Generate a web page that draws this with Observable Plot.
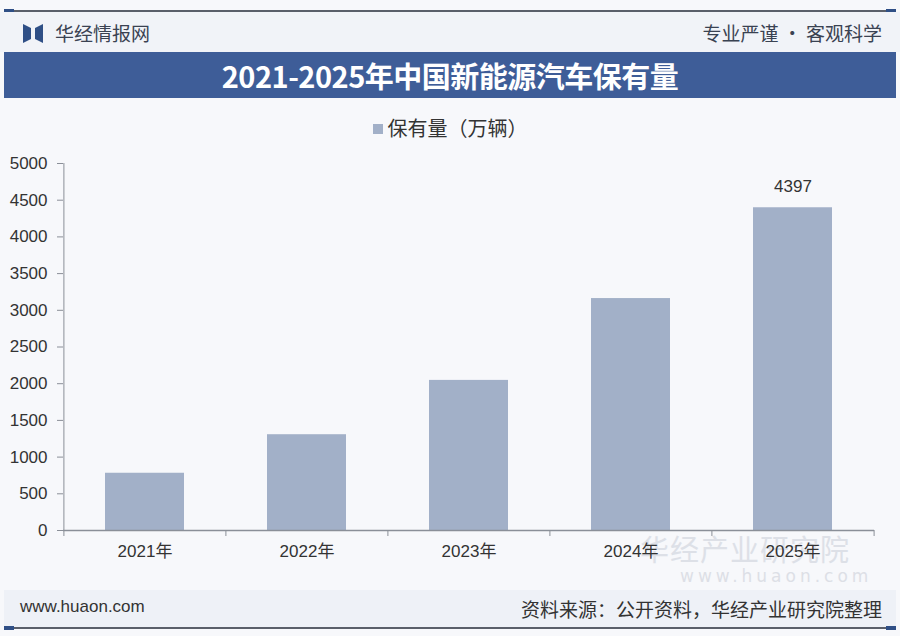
<!DOCTYPE html>
<html><head><meta charset="utf-8">
<script src="https://cdn.jsdelivr.net/npm/d3@7"></script>
<script src="https://cdn.jsdelivr.net/npm/@observablehq/plot@0.6"></script>
<style>
body{margin:0;width:900px;height:636px;overflow:hidden;background:#f7f8fb;font-family:"Noto Sans CJK SC","Noto Sans",sans-serif;position:relative;}
.abs{position:absolute;}
#topline{left:4px;top:10px;width:892px;height:2px;background:#5a5f6a;}
#topline:before,#topline:after,#botline:before,#botline:after{content:"";position:absolute;top:-1px;width:10px;height:4px;background:#2f4f86;}
#topline:before,#botline:before{left:0}
#topline:after,#botline:after{right:0}
#head{left:0;top:12px;width:900px;height:40px;background:#f1f3f8;}
#logo{left:23px;top:24px;width:20px;height:19px;}
#brand{left:55px;top:19px;font-size:19px;color:#3a4252;}
#motto{right:18px;top:19px;font-size:19px;color:#3a4252;}
#titlebar{left:4px;top:52px;width:892px;height:46px;background:#3e5d98;color:#fff;text-align:center;font-size:29px;font-weight:bold;line-height:46px;letter-spacing:-0.5px;}
#legend{left:0;top:113px;width:900px;text-align:center;font-size:20px;color:#333;}
#legend span.sw{display:inline-block;width:10px;height:10px;background:#a2b0c8;margin-right:5px;vertical-align:2px;}
#chart{left:0;top:140px;}
#foot{left:4px;top:590px;width:892px;height:37px;background:#eef1f7;}
#site{left:20px;top:597px;font-size:17px;color:#333;font-family:"Liberation Sans",Arial,sans-serif;}
#source{right:18px;top:595px;font-size:19px;color:#333;}
#botline{left:4px;top:627px;width:892px;height:2px;background:#5a5f6a;}
.wm{color:#c4cad5;opacity:0.5;font-size:29px;letter-spacing:1px;}
.wm2{color:#c8ccd5;opacity:0.55;font-size:17px;letter-spacing:4px;font-family:"DejaVu Sans",sans-serif;}
</style></head>
<body>
<div id="topline" class="abs"></div>
<div id="head" class="abs"></div>
<svg id="logo" class="abs" viewBox="0 0 20 19"><path d="M0 0 L8 4 L8 15 L0 19 Z M12 4 L20 0 L20 19 L12 15 Z" fill="#2f4f86"/></svg>
<div id="brand" class="abs">华经情报网</div>
<div id="motto" class="abs">专业严谨 • 客观科学</div>
<div id="titlebar" class="abs"></div>
<div id="legend" class="abs"><span class="sw"></span><span id="legtext"></span></div>
<div class="abs wm" style="left:640px;top:527px;">华经产业研究院</div>
<div class="abs wm2" style="left:680px;top:566px;">www.huaon.com</div>
<div id="chart" class="abs"></div>
<div id="foot" class="abs"></div>
<div id="site" class="abs">www.huaon.com</div>
<div id="source" class="abs">资料来源：公开资料，华经产业研究院整理</div>
<div id="botline" class="abs"></div>
<script>
const title = "2021-2025年中国新能源汽车保有量";
const seriesName = "保有量（万辆）";
const years = ["2021年", "2022年", "2023年", "2024年", "2025年"];
const values = [780, 1305, 2045, 3160, 4397];
const labeledYear = "2025年";
const yTicks = [0, 500, 1000, 1500, 2000, 2500, 3000, 3500, 4000, 4500, 5000];

document.getElementById("titlebar").textContent = title;
document.getElementById("legtext").textContent = seriesName;

const data = years.map((y, i) => ({year: y, value: values[i]}));
const W = 900, H = 420, ml = 63, mr = 26, mt = 23, mb = 30;
const step = (W - ml - mr) / years.length;
const bounds = years.map(y => ({year: y, dx: -step / 2})).concat([{year: years[years.length - 1], dx: step / 2}]);

const chart = Plot.plot({
  width: W, height: H,
  marginLeft: ml, marginRight: mr, marginTop: mt, marginBottom: mb,
  style: {background: "transparent", fontFamily: "'Liberation Sans','Noto Sans CJK SC',sans-serif", fontSize: "17px", color: "#333"},
  x: {domain: years, paddingInner: 0.51, paddingOuter: 0.255, label: null},
  y: {domain: [0, 5000], label: null},
  marks: [
    Plot.barY(data, {x: "year", y: "value", fill: "#a2b0c8"}),
    Plot.ruleY([0], {stroke: "#8a8f98", strokeWidth: 1.3}),
    ...bounds.map(b => Plot.ruleX([b], {x: "year", y1: 0, y2: 0, dx: b.dx, stroke: "#8a8f98", insetBottom: -6})),
    Plot.axisY({ticks: yTicks, tickSize: 6, tickPadding: 10, tickFormat: d => String(d), stroke: "#8a8f98", fill: "#333", fontSize: 17}),
    Plot.ruleX([0], {x: () => years[0], dx: -step / 2, y1: 0, y2: 5000, stroke: "#8a8f98"}),
    Plot.axisX({tickSize: 0, tickPadding: 14, fill: "#333", fontSize: 17, fontFamily: "'Liberation Sans','Noto Sans CJK SC',sans-serif"}),
    Plot.text(data.filter(d => d.year === labeledYear), {x: "year", y: "value", text: d => String(d.value), dy: -21, fill: "#333", fontSize: 17})
  ]
});
document.getElementById("chart").appendChild(chart);
</script>
</body></html>
